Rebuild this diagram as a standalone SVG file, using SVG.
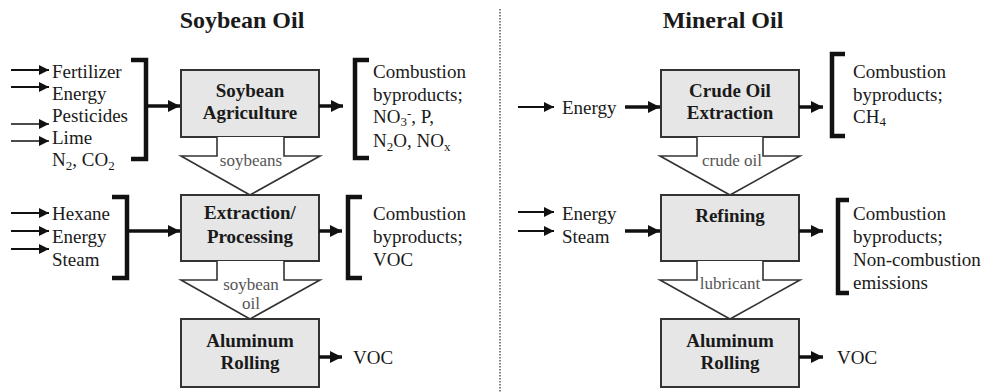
<svg xmlns="http://www.w3.org/2000/svg" width="992" height="392" viewBox="0 0 992 392" font-family="'Liberation Serif', 'Times New Roman', Tinos, 'DejaVu Serif', serif">
<style>
text{font-family:'Liberation Serif','Times New Roman',Tinos,'DejaVu Serif',serif;fill:#1a1a1a}
.t{font-size:24px;font-weight:bold}
.b{font-size:19px;font-weight:bold;text-anchor:middle}
.n{font-size:19px}
.l{font-size:17px;fill:#555;text-anchor:middle}
.box{fill:#e6e6e6;stroke:#333;stroke-width:2}
.br{fill:none;stroke:#111;stroke-width:4.5}
.thin{stroke:#111;stroke-width:1.4;fill:none}
.med{stroke:#111;stroke-width:2;fill:none}
.thk{stroke:#111;stroke-width:3.5;fill:none}
.blk{fill:#fff;stroke:#333;stroke-width:1.6;stroke-linejoin:miter}
.sub{font-size:13px}
</style>
<defs>
<marker id="ah" viewBox="0 0 10 10" refX="10" refY="5" markerWidth="11" markerHeight="10" markerUnits="userSpaceOnUse" orient="auto"><path d="M0,0 L10,5 L0,10 z" fill="#111"/></marker>
<marker id="ahb" viewBox="0 0 10 10" refX="10" refY="5" markerWidth="12" markerHeight="12" markerUnits="userSpaceOnUse" orient="auto"><path d="M0,0 L10,5 L0,10 z" fill="#111"/></marker>
</defs>

<text class="t" x="242" y="28" text-anchor="middle">Soybean Oil</text>
<text class="t" x="723" y="28" text-anchor="middle">Mineral Oil</text>
<line x1="500" y1="9" x2="500" y2="392" stroke="#555" stroke-width="1.5" stroke-dasharray="1.5,1.5"/>

<!-- Soybean side nodes -->
<g id="soy-agri">
<rect class="box" x="181" y="70" width="138" height="67"/>
<text class="b" x="250" y="97">Soybean</text>
<text class="b" x="250" y="119">Agriculture</text>
</g>
<g id="soy-extract">
<rect class="box" x="181" y="195" width="138" height="66"/>
<text class="b" x="250" y="219">Extraction/</text>
<text class="b" x="250" y="243">Processing</text>
</g>
<g id="soy-rolling">
<rect class="box" x="181" y="319" width="138" height="68"/>
<text class="b" x="250" y="347">Aluminum</text>
<text class="b" x="250" y="369">Rolling</text>
</g>

<g id="soy-agri-inputs">
<text class="n" x="52" y="78">Fertilizer</text>
<text class="n" x="52" y="100">Energy</text>
<text class="n" x="52" y="122">Pesticides</text>
<text class="n" x="52" y="144">Lime</text>
<text class="n" x="52" y="166">N<tspan class="sub" dy="4">2</tspan><tspan dy="-4">, CO</tspan><tspan class="sub" dy="4">2</tspan></text>
<path class="br" d="M131,60 H146 V159 H131"/>
</g>
<g id="soy-agri-outputs">
<path class="br" d="M369,60 H355 V158 H369"/>
<text class="n" x="373" y="78">Combustion</text>
<text class="n" x="373" y="101">byproducts;</text>
<text class="n" x="373" y="123">NO<tspan class="sub" dy="3">3</tspan><tspan class="sub" dy="-8">-</tspan><tspan dy="5">, P,</tspan></text>
<text class="n" x="373" y="147">N<tspan class="sub" dy="4">2</tspan><tspan dy="-4">O, NO</tspan><tspan class="sub" dy="4">x</tspan></text>
</g>
<g id="soy-extract-inputs">
<text class="n" x="52" y="220">Hexane</text>
<text class="n" x="52" y="243">Energy</text>
<text class="n" x="52" y="266">Steam</text>
<path class="br" d="M112,197 H127 V278 H112"/>
</g>
<g id="soy-extract-outputs">
<path class="br" d="M362,197 H348 V278 H362"/>
<text class="n" x="373" y="220">Combustion</text>
<text class="n" x="373" y="243">byproducts;</text>
<text class="n" x="373" y="266">VOC</text>
</g>
<g id="soy-rolling-output">
<text class="n" x="353" y="364">VOC</text>
</g>

<!-- Mineral side nodes -->
<g id="crude-extract">
<rect class="box" x="661" y="70" width="138" height="67"/>
<text class="b" x="730" y="97">Crude Oil</text>
<text class="b" x="730" y="119">Extraction</text>
</g>
<g id="refining">
<rect class="box" x="661" y="195" width="138" height="66"/>
<text class="b" x="730" y="222">Refining</text>
</g>
<g id="min-rolling">
<rect class="box" x="661" y="319" width="138" height="68"/>
<text class="b" x="730" y="347">Aluminum</text>
<text class="b" x="730" y="369">Rolling</text>
</g>
<g id="crude-inputs">
<text class="n" x="562" y="114">Energy</text>
</g>
<g id="crude-outputs">
<path class="br" d="M845,54 H832 V136 H845"/>
<text class="n" x="853" y="78">Combustion</text>
<text class="n" x="853" y="101">byproducts;</text>
<text class="n" x="853" y="123">CH<tspan class="sub" dy="3">4</tspan></text>
</g>
<g id="refining-inputs">
<text class="n" x="562" y="220">Energy</text>
<text class="n" x="562" y="243">Steam</text>
</g>
<g id="refining-outputs">
<path class="br" d="M849,200 H838 V293 H849"/>
<text class="n" x="853" y="220">Combustion</text>
<text class="n" x="853" y="243">byproducts;</text>
<text class="n" x="853" y="266">Non-combustion</text>
<text class="n" x="853" y="289">emissions</text>
</g>
<g id="min-rolling-output">
<text class="n" x="837" y="364">VOC</text>
</g>

<!-- Connectors -->
<g id="connectors">
<line class="med" x1="11" y1="70" x2="49" y2="70" marker-end="url(#ah)"/>
<line class="med" x1="11" y1="87" x2="49" y2="87" marker-end="url(#ah)"/>
<line class="thin" x1="11" y1="124" x2="49" y2="124" marker-end="url(#ah)"/>
<line class="thin" x1="11" y1="141" x2="49" y2="141" marker-end="url(#ah)"/>
<line class="thk" x1="146" y1="106" x2="180" y2="106" marker-end="url(#ahb)"/>
<line class="thk" x1="319" y1="106" x2="343" y2="106" marker-end="url(#ahb)"/>

<line class="med" x1="11" y1="213" x2="49" y2="213" marker-end="url(#ah)"/>
<line class="med" x1="11" y1="231" x2="49" y2="231" marker-end="url(#ah)"/>
<line class="med" x1="11" y1="249" x2="49" y2="249" marker-end="url(#ah)"/>
<line class="thk" x1="127" y1="231" x2="180" y2="231" marker-end="url(#ahb)"/>
<line class="thk" x1="319" y1="231" x2="342" y2="231" marker-end="url(#ahb)"/>
<line class="thk" x1="319" y1="357" x2="342" y2="357" marker-end="url(#ahb)"/>

<path class="blk" d="M217,137 V156 H181 L250,195 L320,156 H284 V137"/>
<text class="l" x="251" y="166">soybeans</text>
<path class="blk" d="M217,261 V280 H181 L250,319 L320,280 H284 V261"/>
<text class="l" x="251" y="290">soybean</text>
<text class="l" x="251" y="309">oil</text>

<line class="med" x1="518" y1="107" x2="554" y2="107" marker-end="url(#ah)"/>
<line class="thk" x1="625" y1="107" x2="660" y2="107" marker-end="url(#ahb)"/>
<line class="thk" x1="799" y1="107" x2="823" y2="107" marker-end="url(#ahb)"/>
<line class="med" x1="518" y1="212" x2="554" y2="212" marker-end="url(#ah)"/>
<line class="med" x1="518" y1="231" x2="554" y2="231" marker-end="url(#ah)"/>
<line class="thk" x1="625" y1="231" x2="660" y2="231" marker-end="url(#ahb)"/>
<line class="thk" x1="799" y1="231" x2="823" y2="231" marker-end="url(#ahb)"/>
<line class="thk" x1="799" y1="357" x2="823" y2="357" marker-end="url(#ahb)"/>

<path class="blk" d="M697,137 V156 H660 L730,195 L800,156 H763 V137"/>
<text class="l" x="732" y="166">crude oil</text>
<path class="blk" d="M697,261 V280 H660 L730,319 L800,280 H763 V261"/>
<text class="l" x="730" y="289">lubricant</text>
</g>
</svg>
